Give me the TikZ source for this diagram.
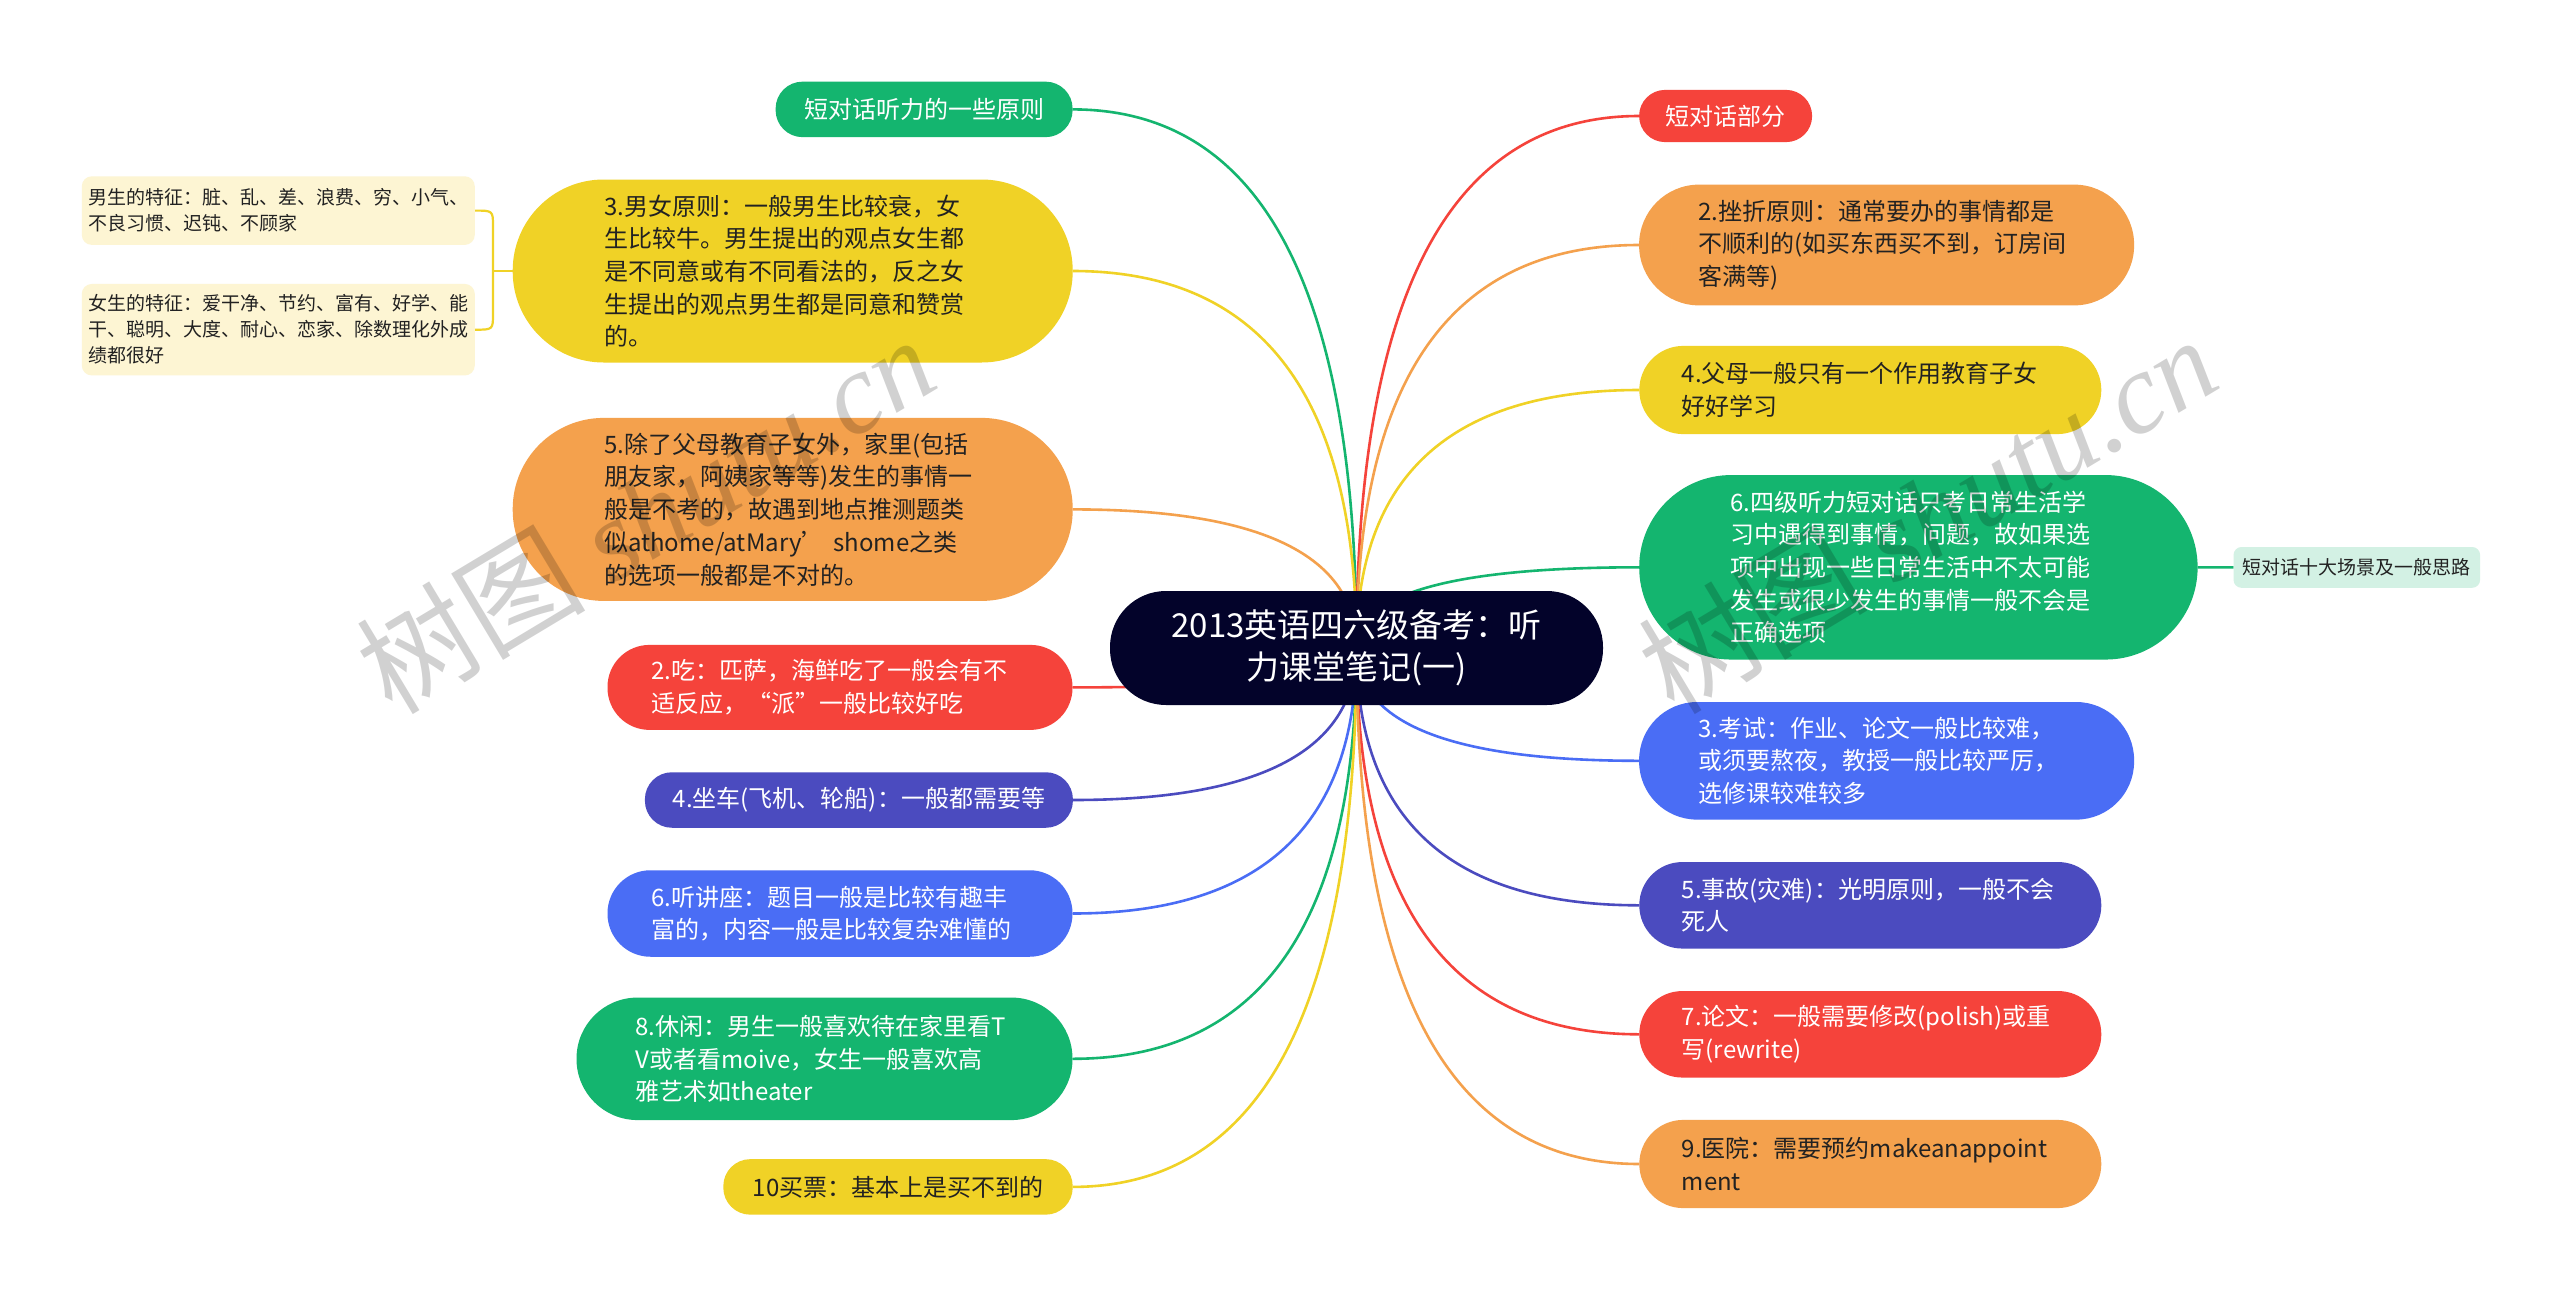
\documentclass[tikz,border=0pt]{standalone}
\usepackage{fontspec}
\setmainfont{Noto Sans CJK SC}
\newfontfamily\wmserif{Liberation Serif}
\usetikzlibrary{calc}
\definecolor{cgreen}{HTML}{14B56F}
\definecolor{cyellow}{HTML}{F0D226}
\definecolor{corange}{HTML}{F4A14D}
\definecolor{cred}{HTML}{F5433B}
\definecolor{cindigo}{HTML}{4B4BBF}
\definecolor{cblue}{HTML}{4A6DF5}
\definecolor{croot}{HTML}{03032A}
\definecolor{csuby}{HTML}{FDF5D3}
\definecolor{csubg}{HTML}{D3F1E4}
\definecolor{tdark}{HTML}{222222}
\pgfdeclarelayer{bg}\pgfdeclarelayer{edges}\pgfsetlayers{bg,edges,main}
\newcommand\mmlink[2]{\draw[link,#1] (root.center) .. controls ($(root.center)!0.667!(root.center|-#2)$) and ($(#2)!0.667!(root.center|-#2)$) .. (#2);}
\begin{document}
\begin{tikzpicture}[x=1pt,y=-1pt,
  box/.style={rectangle, inner ysep=0pt, outer sep=0pt},
  txtbig/.style={font=\fontsize{24}{32.7}\selectfont},
  txtsmall/.style={font=\fontsize{19}{26}\selectfont},
  wtext/.style={text=white},
  dtext/.style={text=tdark},
  multi/.style={align=left, text width=#1},
  link/.style={line width=2.6pt},
  bracket/.style={line width=2.2pt, cyellow},
  wm/.style={text=black, opacity=0.18, font=\fontsize{115}{120}\selectfont}
]
\useasboundingbox (0,0) rectangle (2560,1296);
\begin{pgfonlayer}{bg}
\fill[white] (0,0) rectangle (2560,1296);
\end{pgfonlayer}

% root
\node[box, fill=croot, text=white, minimum width=493pt, minimum height=114pt, rounded corners=56pt, align=center, font=\fontsize{33}{42.5}\selectfont] (root) at (1356.5,648) {2013英语四六级备考：听\\力课堂笔记(一)};

% left
\node[box, txtbig, fill=cgreen, wtext, minimum width=297pt, minimum height=55.5pt, rounded corners=27pt] (L1) at (924.1,109.4) {短对话听力的一些原则};
\node[box, txtbig, fill=cyellow, dtext, multi=377pt, inner xsep=91.5pt, minimum height=183pt, rounded corners=91pt] (L2) at (792.7,271) {3.男女原则：一般男生比较衰，女\\生比较牛。男生提出的观点女生都\\是不同意或有不同看法的，反之女\\生提出的观点男生都是同意和赞赏\\的。};
\node[box, txtbig, fill=corange, dtext, multi=377pt, inner xsep=91.5pt, minimum height=183pt, rounded corners=91pt] (L3) at (792.7,509.4) {5.除了父母教育子女外，家里(包括\\朋友家，阿姨家等等)发生的事情一\\般是不考的，故遇到地点推测题类\\似athome/atMary’ shome之类\\的选项一般都是不对的。};
\node[box, txtbig, fill=cred, wtext, multi=377pt, inner xsep=44pt, minimum height=85pt, rounded corners=42pt] (L4) at (840,687.4) {2.吃：匹萨，海鲜吃了一般会有不\\适反应，“派”一般比较好吃};
\node[box, txtbig, fill=cindigo, wtext, minimum width=428pt, minimum height=55.5pt, rounded corners=27pt] (L5) at (858.9,800) {4.坐车(飞机、轮船)：一般都需要等};
\node[box, txtbig, fill=cblue, wtext, multi=377pt, inner xsep=44pt, minimum height=86.5pt, rounded corners=43pt] (L6) at (840,913.5) {6.听讲座：题目一般是比较有趣丰\\富的，内容一般是比较复杂难懂的};
\node[box, txtbig, fill=cgreen, wtext, multi=378pt, inner xsep=59pt, minimum height=122.5pt, rounded corners=61pt] (L7) at (824.5,1058.8) {8.休闲：男生一般喜欢待在家里看T\\V或者看moive，女生一般喜欢高\\雅艺术如theater};
\node[box, txtbig, fill=cyellow, dtext, minimum width=349.4pt, minimum height=55.5pt, rounded corners=27pt] (L8) at (898,1186.9) {10买票：基本上是买不到的};

% left sub nodes
\node[box, txtsmall, fill=csuby, dtext, multi=379pt, inner xsep=7pt, minimum height=68.6pt, rounded corners=10pt] (S1) at (278.3,210.6) {男生的特征：脏、乱、差、浪费、穷、小气、\\不良习惯、迟钝、不顾家};
\node[box, txtsmall, fill=csuby, dtext, multi=379pt, inner xsep=7pt, minimum height=91.5pt, rounded corners=10pt] (S2) at (278.3,329.7) {女生的特征：爱干净、节约、富有、好学、能\\干、聪明、大度、耐心、恋家、除数理化外成\\绩都很好};

% right
\node[box, txtbig, fill=cred, wtext, minimum width=173pt, minimum height=52.2pt, rounded corners=26pt] (R1) at (1725.6,116) {短对话部分};
\node[box, txtbig, fill=corange, dtext, multi=377pt, inner xsep=59pt, minimum height=120.8pt, rounded corners=60pt] (R2) at (1886.6,245) {2.挫折原则：通常要办的事情都是\\不顺利的(如买东西买不到，订房间\\客满等)};
\node[box, txtbig, fill=cyellow, dtext, multi=377pt, inner xsep=42.5pt, minimum height=88.2pt, rounded corners=44pt] (R3) at (1870.3,390) {4.父母一般只有一个作用教育子女\\好好学习};
\node[box, txtbig, fill=cgreen, wtext, multi=375.6pt, inner xsep=91.4pt, minimum height=184.5pt, rounded corners=92pt] (R4) at (1918.4,567.3) {6.四级听力短对话只考日常生活学\\习中遇得到事情，问题，故如果选\\项中出现一些日常生活中不太可能\\发生或很少发生的事情一般不会是\\正确选项};
\node[box, txtbig, fill=cblue, wtext, multi=377pt, inner xsep=59pt, minimum height=117.6pt, rounded corners=58pt] (R5) at (1886.6,760.8) {3.考试：作业、论文一般比较难，\\或须要熬夜，教授一般比较严厉，\\选修课较难较多};
\node[box, txtbig, fill=cindigo, wtext, multi=377pt, inner xsep=42.5pt, minimum height=86.5pt, rounded corners=43pt] (R6) at (1870.3,905.3) {5.事故(灾难)：光明原则，一般不会\\死人};
\node[box, txtbig, fill=cred, wtext, multi=377pt, inner xsep=42.5pt, minimum height=86.5pt, rounded corners=43pt] (R7) at (1870.3,1034.3) {7.论文：一般需要修改(polish)或重\\写(rewrite)};
\node[box, txtbig, fill=corange, dtext, multi=377pt, inner xsep=42.5pt, minimum height=88.2pt, rounded corners=44pt] (R8) at (1870.3,1164) {9.医院：需要预约makeanappoint\\ment};

% right sub node
\node[box, txtsmall, fill=csubg, dtext, minimum width=246.6pt, minimum height=40.8pt, rounded corners=8pt] (T1) at (2356.8,567.4) {短对话十大场景及一般思路};

% connectors
\begin{pgfonlayer}{edges}
\mmlink{cgreen}{L1.east}
\mmlink{cyellow}{L2.east}
\mmlink{corange}{L3.east}
\mmlink{cred}{L4.east}
\mmlink{cindigo}{L5.east}
\mmlink{cblue}{L6.east}
\mmlink{cgreen}{L7.east}
\mmlink{cyellow}{L8.east}
\mmlink{cred}{R1.west}
\mmlink{corange}{R2.west}
\mmlink{cyellow}{R3.west}
\mmlink{cgreen}{R4.west}
\mmlink{cblue}{R5.west}
\mmlink{cindigo}{R6.west}
\mmlink{cred}{R7.west}
\mmlink{corange}{R8.west}
\draw[link, cgreen] (R4.east) -- (T1.west);
\coordinate (bk) at (493,271);
\draw[bracket] (L2.west) -- (bk);
\draw[bracket] (S1.east) .. controls (bk|-S1.east) .. ($(bk|-S1.east)+(0,16)$) -- ($(bk|-S2.east)+(0,-16)$) .. controls (bk|-S2.east) .. (S2.east);
\end{pgfonlayer}

% watermarks
\node[wm, rotate=31] (wm1) at (645,514) {树图 {\wmserif\itshape shutu.cn}};
\node[wm, rotate=31] (wm2) at (1927,514) {树图 {\wmserif\itshape shutu.cn}};
\end{tikzpicture}
\end{document}
